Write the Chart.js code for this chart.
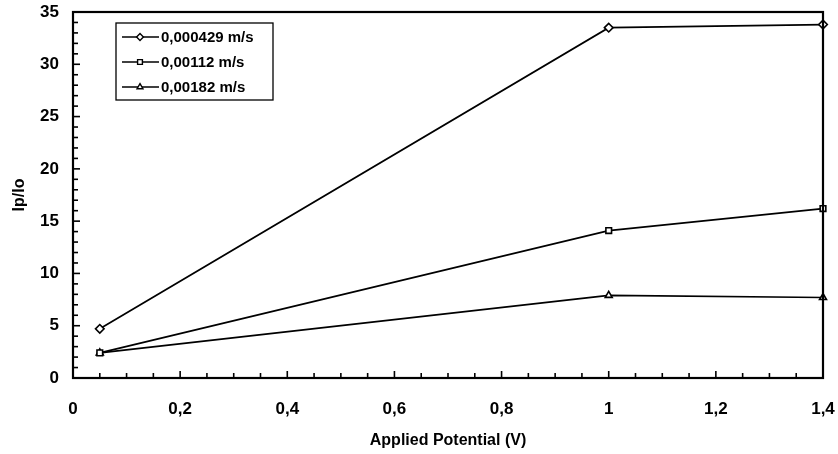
<!DOCTYPE html>
<html><head><meta charset="utf-8">
<script src="https://cdn.jsdelivr.net/npm/chart.js@4"></script>
<style>html,body{margin:0;padding:0;background:#fff}#w{width:838px;height:454px}</style>
</head><body><div id="w"><canvas id="c" width="838" height="454"></canvas></div>
<script>
const xValues = [0.05, 1, 1.4];
const seriesLabels = ['0,000429 m/s', '0,00112 m/s', '0,00182 m/s'];
const series1 = [4.7, 33.5, 33.8];
const series2 = [2.4, 14.1, 16.2];
const series3 = [2.4, 7.9, 7.7];
const pointStyles = ['rectRot', 'rect', 'triangle'];
const xTicks = [0, 0.2, 0.4, 0.6, 0.8, 1, 1.2, 1.4];
const yTicks = [0, 5, 10, 15, 20, 25, 30, 35];
const FONT = "'Liberation Sans', Arial, sans-serif";

const allSeries = [series1, series2, series3];
const datasets = allSeries.map((s, i) => ({
  label: seriesLabels[i],
  data: s.map((v, j) => ({x: xValues[j], y: v})),
  borderColor: '#000', borderWidth: 1.7,
  pointStyle: pointStyles[i], pointRadius: i === 0 ? 4.3 : 4,
  pointBackgroundColor: '#fff', pointBorderColor: '#000', pointBorderWidth: 1.6,
  tension: 0, clip: false
}));

const fmt = v => String(Math.round(v * 100) / 100).replace('.', ',');

const framePlugin = {
  id: 'frame',
  afterDraw(chart) {
    const {ctx, chartArea: a, scales: {x, y}} = chart;
    ctx.save();
    ctx.strokeStyle = '#000';
    ctx.lineWidth = 1.6;
    for (let k = 1; k < 28; k++) {
      const px = x.getPixelForValue(k * 0.05);
      const len = (k % 4 === 0) ? 7 : 5;
      ctx.beginPath(); ctx.moveTo(px, a.bottom); ctx.lineTo(px, a.bottom - len); ctx.stroke();
    }
    for (let k = 1; k < 35; k++) {
      const py = y.getPixelForValue(k);
      const len = (k % 5 === 0) ? 7 : 5;
      ctx.beginPath(); ctx.moveTo(a.left, py); ctx.lineTo(a.left + len, py); ctx.stroke();
    }
    ctx.lineWidth = 2.2;
    ctx.strokeRect(a.left, a.top, a.right - a.left, a.bottom - a.top);
    // legend box
    const lx = 116, ly = 23, lw = 157, lh = 77;
    ctx.fillStyle = '#fff';
    ctx.fillRect(lx, ly, lw, lh);
    ctx.lineWidth = 1.3;
    ctx.strokeRect(lx, ly, lw, lh);
    ctx.font = 'bold 15px ' + FONT;
    ctx.textBaseline = 'middle';
    chart.data.datasets.forEach((ds, i) => {
      const cy = ly + 14 + i * 25;
      ctx.lineWidth = 1.5;
      ctx.beginPath(); ctx.moveTo(lx + 6, cy); ctx.lineTo(lx + 43, cy); ctx.stroke();
      ctx.fillStyle = '#fff'; ctx.lineWidth = 1.4;
      Chart.helpers.drawPoint(ctx, {pointStyle: ds.pointStyle, radius: 3.4, borderWidth: 1.4}, lx + 24, cy);
      ctx.fillStyle = '#000';
      ctx.fillText(ds.label, lx + 45, cy + 1);
    });
    ctx.restore();
  }
};

new Chart(document.getElementById('c'), {
  type: 'line',
  data: {datasets},
  options: {
    responsive: false, animation: false,
    layout: {padding: {left: 0, right: 15, top: 12, bottom: 0}},
    plugins: {legend: {display: false}, tooltip: {enabled: false}},
    scales: {
      x: {
        type: 'linear', min: 0, max: 1.4,
        afterBuildTicks: s => { s.ticks = xTicks.map(v => ({value: v})); },
        afterFit: s => { s.height = 76; s.paddingLeft = 0; s.paddingRight = 0; },
        grid: {display: false, drawTicks: false},
        border: {display: false},
        ticks: {color: '#000', font: {family: FONT, size: 17, weight: 'bold'}, padding: 21, maxRotation: 0, callback: v => fmt(v)},
        title: {display: true, text: 'Applied Potential (V)', color: '#000', font: {family: FONT, size: 16, weight: 'bold'}, padding: {top: 0, bottom: 4}}
      },
      y: {
        min: 0, max: 35,
        afterBuildTicks: s => { s.ticks = yTicks.map(v => ({value: v})); },
        afterFit: s => { s.width = 73; s.paddingTop = 0; s.paddingBottom = 0; },
        grid: {display: false, drawTicks: false},
        border: {display: false},
        ticks: {color: '#000', font: {family: FONT, size: 17, weight: 'bold'}, padding: 14, callback: v => fmt(v)},
        title: {display: true, text: 'Ip/Io', color: '#000', font: {family: FONT, size: 16, weight: 'bold'}, padding: {top: 10, bottom: 0}}
      }
    }
  },
  plugins: [framePlugin]
});
</script>
</body></html>
